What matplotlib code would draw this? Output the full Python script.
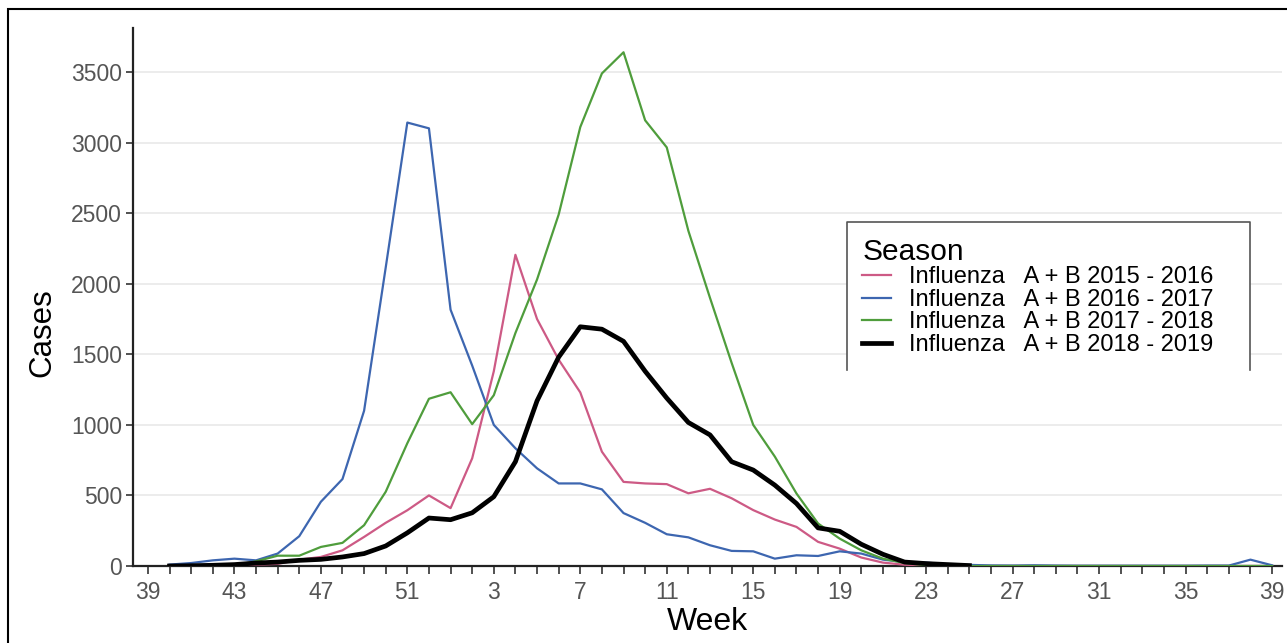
import numpy as np
import matplotlib.pyplot as plt
from matplotlib.lines import Line2D
from matplotlib.patches import Rectangle

plt.rcParams['font.family'] = ['Liberation Sans', 'DejaVu Sans']

# axis runs from week 39 to week 39 of the next year
weeks = list(range(39, 53)) + list(range(1, 40))

# weekly cases, first value = week 40
flu_2015 = [3, 5, 5, 8, 10, 15, 45, 64, 111, 206, 306, 395, 500, 410, 763, 1380,
            2205, 1750, 1462, 1230, 810, 596, 585, 580, 515, 547, 480, 396, 329, 277,
            171, 123, 60, 24, 9, 4, 2, 0, 0, 0, 0, 0, 0, 0, 0, 0, 0, 0, 0, 0, 0, 0]
flu_2016 = [10, 21, 40, 52, 40, 88, 211, 455, 616, 1100, 2115, 3142, 3101, 1816, 1420, 1000,
            834, 692, 585, 585, 543, 375, 306, 225, 203, 147, 107, 104, 52, 76,
            71, 104, 88, 45, 28, 24, 12, 8, 4, 3, 5, 3, 2, 2, 2, 2, 2, 2, 3, 3, 45, 5]
flu_2017 = [0, 2, 3, 5, 33, 73, 73, 135, 164, 289, 526, 870, 1185, 1231, 1005, 1210,
            1651, 2030, 2490, 3110, 3490, 3640, 3158, 2966, 2375, 1900, 1440, 1000, 775, 514,
            301, 194, 111, 52, 21, 5, 0, 0, 0, 0, 0, 0, 0, 0, 0, 0, 0, 0, 0, 0, 0, 0]
flu_2018 = [0, 2, 5, 10, 21, 28, 40, 47, 64, 88, 142, 235, 340, 328, 377, 491,
            739, 1170, 1480, 1695, 1678, 1592, 1380, 1190, 1017, 929, 739, 680, 573, 443,
            270, 246, 154, 83, 28, 17, 10, 3]

seasons = ['Influenza   A + B 2015 - 2016', 'Influenza   A + B 2016 - 2017',
           'Influenza   A + B 2017 - 2018', 'Influenza   A + B 2018 - 2019']

fig = plt.figure(figsize=(12.87, 6.43), dpi=100)
ax = fig.add_axes([133/1287, 1-566/643, (1282-133)/1287, (566-28)/643])

x = np.arange(1, len(weeks))
ax.plot(x[:len(flu_2015)], flu_2015, color='#cd5a85', lw=1.6, label=seasons[0], zorder=3)
ax.plot(x[:len(flu_2016)], flu_2016, color='#3d66b0', lw=1.6, label=seasons[1], zorder=3)
ax.plot(x[:len(flu_2017)], flu_2017, color='#4f9d3c', lw=1.6, label=seasons[2], zorder=3)
ax.plot(x[:len(flu_2018)], flu_2018, color='black', lw=3.4, label=seasons[3], zorder=4)

ax.set_xlim(-0.69, 52.46)
ax.set_ylim(0, 3812)

ax.set_xticks(range(0, len(weeks), 4))
ax.set_xticklabels([weeks[i] for i in range(0, len(weeks), 4)])
ax.set_xticks(range(len(weeks)), minor=True)
ax.set_yticks(range(0, 3501, 500))

ax.tick_params(axis='x', which='both', length=6, width=1.2, color='#333333', pad=5,
               labelsize=16.5, labelcolor='#555555')
ax.tick_params(axis='y', length=5, width=1.2, color='#333333', pad=3,
               labelsize=16.5, labelcolor='#555555')

ax.grid(axis='y', color='#ebebeb', lw=1.3, zorder=0)
ax.set_axisbelow(True)
for s in ['top', 'right']:
    ax.spines[s].set_visible(False)
for s in ['left', 'bottom']:
    ax.spines[s].set_linewidth(1.6)
    ax.spines[s].set_color('#222222')

fig.text(42/1287, 1-333/643, 'Cases', rotation=90, ha='center', va='center', fontsize=22.5)
fig.text(707/1287, 1-622/643, 'Week', ha='center', va='center', fontsize=23)

# legend box (open at the bottom)
lx0, lx1 = (847-133)/1149, (1250-133)/1149
ly0, ly1 = (566-370)/538, (566-222)/538
ax.add_patch(Rectangle((lx0, ly0), lx1-lx0, ly1-ly0, transform=ax.transAxes,
                       facecolor='white', edgecolor='none', zorder=5))
ax.add_line(Line2D([lx0, lx0, lx1, lx1], [ly0, ly1, ly1, ly0], transform=ax.transAxes,
                   color='#555555', lw=1.2, zorder=6))

leg = ax.legend(loc='upper left', bbox_to_anchor=(lx0 + 0.005, ly1 - 0.012), frameon=False,
                title='Season', fontsize=17, title_fontsize=21.5, labelspacing=0.02,
                handlelength=1.2, handletextpad=0.8, borderaxespad=0)
leg._legend_box.align = 'left'
leg.set_zorder(7)

# outer frame around the figure
fig.patches.append(Rectangle((8/1287, -0.1), 1.2, 1-9/643+0.1, transform=fig.transFigure,
                             fill=False, edgecolor='black', lw=1.5))

fig.savefig('out.png', dpi=100)
